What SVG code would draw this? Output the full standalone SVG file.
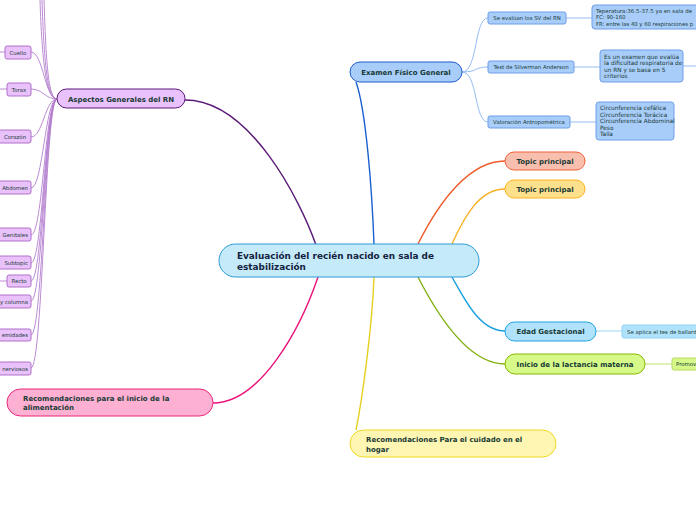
<svg xmlns="http://www.w3.org/2000/svg" width="696" height="520" viewBox="0 0 696 520">
<style>
text{font-family:"DejaVu Sans","Verdana",sans-serif;fill:#173a35}
.b{font-weight:bold}
.m{font-size:7px;font-weight:bold}
.s{font-size:5.4px}
.d{font-size:5.8px}
.c{fill:none}
.leaf{fill:#e9c1fb;stroke:#b070c8;stroke-width:1}
.blue{fill:#a9cdf9;stroke:#6e9ee8;stroke-width:1}
</style>
<rect width="696" height="520" fill="#fff"/>
<g id="connectors" class="c">
  <path d="M316,245 C300,200 250,100 185,100" stroke="#5b1a78" stroke-width="1.4"/>
  <path d="M318,277 C300,330 260,403 213,403" stroke="#e8127a" stroke-width="1.4"/>
  <path d="M374,244 C372,190 366,110 356,82" stroke="#1a5fd0" stroke-width="1.4"/>
  <path d="M374,277 C372,330 362,400 356,430" stroke="#e6d020" stroke-width="1.4"/>
  <path d="M418,244 C440,200 470,161 505,161" stroke="#f05a28" stroke-width="1.4"/>
  <path d="M452,244 C465,215 480,189 505,189" stroke="#f9b020" stroke-width="1.4"/>
  <path d="M452,277 C465,300 480,331 505,331" stroke="#18a0e0" stroke-width="1.4"/>
  <path d="M418,277 C440,320 470,364 505,364" stroke="#80b010" stroke-width="1.4"/>
  <g stroke="#b37fcf" stroke-width="0.9">
    <path d="M57,99 C46,99 42,60 40,0"/>
    <path d="M57,99 C47,99 44,60 42,0"/>
    <path d="M57,99 C48,99 46,60 44,0"/>
    <path d="M57,99 C45,99 43,52 31,52"/>
    <path d="M57,99 C45,99 43,89 31,89"/>
    <path d="M57,99 C45,99 43,137 31,137"/>
    <path d="M57,99 C45,99 43,188 31,188"/>
    <path d="M57,99 C45,99 43,235 31,235"/>
    <path d="M57,99 C45,99 43,263 31,263"/>
    <path d="M57,99 C45,99 43,281 31,281"/>
    <path d="M57,99 C45,99 43,301 31,301"/>
    <path d="M57,99 C45,99 43,335 31,335"/>
    <path d="M57,99 C45,99 43,368 31,368"/>
    <path d="M0,52 H5"/>
    <path d="M0,89 H7"/>
    <path d="M0,281 H7"/>
  </g>
  <g stroke="#8ab4f0" stroke-width="0.9">
    <path d="M462,72 C478,72 474,18 488,18"/>
    <path d="M462,72 C478,72 474,67 488,67"/>
    <path d="M462,72 C478,72 474,122 488,122"/>
    <path d="M566,18 H592"/>
    <path d="M574,67 H600"/>
    <path d="M683,66 H696"/>
    <path d="M570,122 H596"/>
  </g>
  <path d="M596,331 H622" stroke="#8fd3f5" stroke-width="0.9"/>
  <path d="M645,364 H672" stroke="#b5dc60" stroke-width="0.9"/>
</g>
<g id="central">
  <rect x="219" y="244" width="260" height="33" rx="16.5" fill="#c5eafa" stroke="#2c9ad6" stroke-width="1"/>
  <text x="237" y="258.5" class="b" font-size="8.9" style="fill:#13233f">Evaluación del recién nacido en sala de</text>
  <text x="237" y="270" class="b" font-size="8.9" style="fill:#13233f">estabilización</text>
</g>
<g id="aspectos">
  <rect x="57" y="89" width="128" height="19" rx="9.5" fill="#e9c1fb" stroke="#5b1a78" stroke-width="1"/>
  <text x="121" y="101.5" class="m" text-anchor="middle">Aspectos Generales del RN</text>
</g>
<g id="cuello"><rect x="5" y="46" width="26" height="13" rx="2" class="leaf"/><text x="18" y="54.5" class="s" text-anchor="middle">Cuello</text></g>
<g id="torax"><rect x="7" y="83" width="24" height="13" rx="2" class="leaf"/><text x="19" y="91.5" class="s" text-anchor="middle">Torax</text></g>
<g id="corazon"><rect x="-2" y="130" width="33" height="13" rx="2" class="leaf"/><text x="15" y="138.5" class="s" text-anchor="middle">Corazón</text></g>
<g id="abdomen"><rect x="-4" y="181" width="35" height="13" rx="2" class="leaf"/><text x="28" y="189.5" class="s" text-anchor="end">Abdomen</text></g>
<g id="genitales"><rect x="-4" y="228" width="35" height="13" rx="2" class="leaf"/><text x="28" y="236.5" class="s" text-anchor="end">Genitales</text></g>
<g id="subtopic"><rect x="-4" y="256" width="35" height="13" rx="2" class="leaf"/><text x="28" y="264.5" class="s" text-anchor="end">Subtopic</text></g>
<g id="recto"><rect x="7" y="275" width="24" height="12" rx="2" class="leaf"/><text x="19" y="283" class="s" text-anchor="middle">Recto</text></g>
<g id="columna"><rect x="-10" y="295" width="41" height="13" rx="2" class="leaf"/><text x="28" y="303.5" class="s" text-anchor="end">y columna</text></g>
<g id="extremidades"><rect x="-10" y="329" width="41" height="12" rx="2" class="leaf"/><text x="28" y="337" class="s" text-anchor="end">emidades</text></g>
<g id="nerviosos"><rect x="-10" y="362" width="41" height="13" rx="2" class="leaf"/><text x="28" y="370.5" class="s" text-anchor="end">nerviosos</text></g>
<g id="rec-alimentacion">
  <rect x="7" y="389" width="206" height="27" rx="13.5" fill="#fdb0d2" stroke="#e8287a" stroke-width="1"/>
  <text x="23" y="400.5" class="m">Recomendaciones para el inicio de la</text>
  <text x="23" y="410" class="m">alimentación</text>
</g>
<g id="examen">
  <rect x="350" y="62" width="112" height="20" rx="10" fill="#a9cdf9" stroke="#1c5bd0" stroke-width="1"/>
  <text x="406" y="74.5" class="m" text-anchor="middle">Examen Físico General</text>
</g>
<g id="sv"><rect x="488" y="12" width="78" height="12" rx="2" class="blue"/><text x="527" y="20" class="s" text-anchor="middle">Se evalúan los SV del RN</text></g>
<g id="silverman"><rect x="488" y="61" width="86" height="12" rx="2" class="blue"/><text x="531" y="69" class="s" text-anchor="middle">Test de Silverman Anderson</text></g>
<g id="antropo"><rect x="488" y="116" width="82" height="12" rx="2" class="blue"/><text x="529" y="124" class="s" text-anchor="middle">Valoración Antropométrica</text></g>
<g id="sv-det">
  <rect x="592" y="5" width="112" height="24" rx="3" class="blue"/>
  <text x="596" y="12.5" font-size="5.4" textLength="96" lengthAdjust="spacingAndGlyphs">Teperatura:36.5-37.5 ya en sala de</text>
  <text x="596" y="19" font-size="5.4">FC: 90-160</text>
  <text x="596" y="25.5" font-size="5.4" textLength="97" lengthAdjust="spacingAndGlyphs">FR: entre las 40 y 60 respiraciones p</text>
</g>
<g id="silverman-det">
  <rect x="600" y="50" width="83" height="32" rx="3" class="blue"/>
  <text x="604" y="58.5" class="d">Es un examen que evalúa</text>
  <text x="604" y="65" class="d">la dificultad respiratoria de</text>
  <text x="604" y="71.5" class="d">un RN y se basa en 5</text>
  <text x="604" y="78" class="d">criterios</text>
</g>
<g id="antropo-det">
  <rect x="596" y="102" width="78" height="38" rx="3" class="blue"/>
  <text x="600" y="110" class="d">Circunferencia cefálica</text>
  <text x="600" y="116.5" class="d">Circunferencia Torácica</text>
  <text x="600" y="123" class="d">Circunferencia Abdominal</text>
  <text x="600" y="129.5" class="d">Peso</text>
  <text x="600" y="136" class="d">Talla</text>
</g>
<g id="topic1"><rect x="505" y="152" width="80" height="18" rx="9" fill="#f9bfae" stroke="#f0603a" stroke-width="1"/><text x="545" y="163.5" class="m" text-anchor="middle">Topic principal</text></g>
<g id="topic2"><rect x="505" y="180" width="80" height="18" rx="9" fill="#fde08c" stroke="#f9b41c" stroke-width="1"/><text x="545" y="191.5" class="m" text-anchor="middle">Topic principal</text></g>
<g id="edad">
  <rect x="505" y="322" width="91" height="19" rx="9.5" fill="#b0e2fb" stroke="#1fa4e0" stroke-width="1"/>
  <text x="550.5" y="334" class="m" text-anchor="middle">Edad Gestacional</text>
</g>
<g id="ballard"><rect x="622" y="325" width="90" height="13" rx="2" fill="#b0e2fb" stroke="#8fd3f5" stroke-width="1"/><text x="627" y="333.5" class="s">Se aplica el tes de ballard</text></g>
<g id="lactancia">
  <rect x="505" y="354" width="140" height="20" rx="10" fill="#d6f98a" stroke="#88b800" stroke-width="1"/>
  <text x="575" y="366.5" class="m" text-anchor="middle">Inicio de la lactancia materna</text>
</g>
<g id="promover"><rect x="672" y="358" width="40" height="12" rx="2" fill="#d6f98a" stroke="#b5dc60" stroke-width="1"/><text x="676" y="366" class="s">Promov</text></g>
<g id="rec-hogar">
  <rect x="350" y="430" width="206" height="27" rx="13.5" fill="#fff6b3" stroke="#f0d820" stroke-width="1"/>
  <text x="366" y="442" class="m">Recomendaciones Para el cuidado en el</text>
  <text x="366" y="451.5" class="m">hogar</text>
</g>
</svg>
